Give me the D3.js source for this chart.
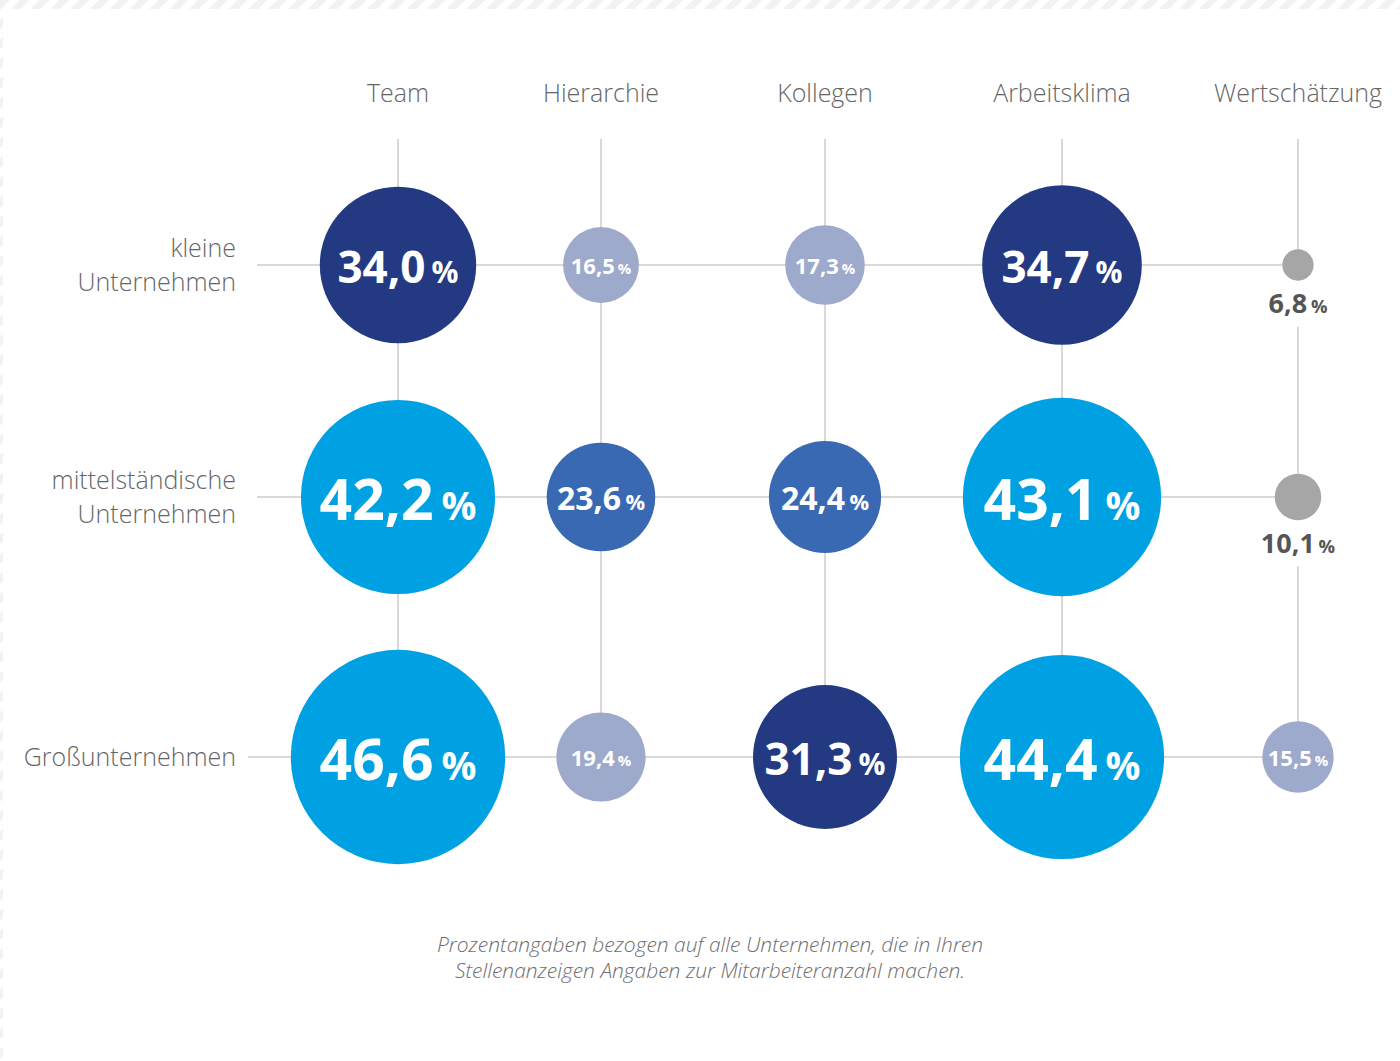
<!DOCTYPE html>
<html lang="de">
<head>
  <meta charset="UTF-8">
  <title>Unternehmensgröße</title>
  <script src="https://d3js.org/d3.v7.min.js"></script>
  <style>
    body { margin: 0; background: #fff; }
    svg { display: block; }
    .label { font-family: "Open Sans", sans-serif; font-weight: 300; fill: #666; }
    .val { font-family: "Open Sans", sans-serif; font-weight: 700; }
    .note { font-family: "Open Sans", sans-serif; font-style: italic; font-weight: 300; fill: #6e6e6e; }
  </style>
</head>
<body>
  <script>
    var width = 1400;
    var height = 1061;

    // Daten
    var columns = ['Team', 'Hierarchie', 'Kollegen', 'Arbeitsklima', 'Wertschätzung'];
    var rows = ['kleine Unternehmen', 'mittelständische Unternehmen', 'Großunternehmen'];
    var rowLines = [['kleine', 'Unternehmen'], ['mittelständische', 'Unternehmen'], ['Großunternehmen']];
    var kleine = [34.0, 16.5, 17.3, 34.7, 6.8];
    var mittel = [42.2, 23.6, 24.4, 43.1, 10.1];
    var gross = [46.6, 19.4, 31.3, 44.4, 15.5];
    var note = ['Prozentangaben bezogen auf alle Unternehmen, die in Ihren',
      'Stellenanzeigen Angaben zur Mitarbeiteranzahl machen.'];

    var values = [kleine, mittel, gross];
    var cells = [];
    values.forEach(function (serie, r) {
      serie.forEach(function (v, c) {
        cells.push({ row: rows[r], col: columns[c], value: v });
      });
    });

    var svg = d3.select('body').append('svg')
      .attr('width', width)
      .attr('height', height);

    // gestreifter Rand oben/links
    var defs = svg.append('defs');
    defs.append('pattern')
      .attr('id', 'stripes')
      .attr('patternUnits', 'userSpaceOnUse')
      .attr('width', 14).attr('height', 14)
      .attr('patternTransform', 'rotate(45)')
      .append('rect')
      .attr('width', 7).attr('height', 14)
      .attr('fill', '#f2f2f2');
    svg.append('rect').attr('x', 0).attr('y', 0).attr('width', width).attr('height', 9).attr('fill', 'url(#stripes)');
    svg.append('rect').attr('x', 0).attr('y', 0).attr('width', 3).attr('height', height).attr('fill', 'url(#stripes)');

    var x = d3.scaleOrdinal().domain(columns).range([398, 601, 825, 1062, 1298]);
    var y = d3.scaleOrdinal().domain(rows).range([265, 497, 757]);
    var r = d3.scaleLinear().domain([0, 50]).range([0, 115]);
    var color = d3.scaleThreshold().domain([12, 20, 30, 40])
      .range(['#a6a6a6', '#9eaacb', '#3a69b3', '#233a83', '#00a1e2']);
    var fontSize = d3.scaleThreshold().domain([12, 20, 30, 40])
      .range([27, 22, 32, 44, 57]);

    var de = d3.formatLocale({ decimal: ',', thousands: '.', grouping: [3], currency: ['', ' €'] });
    var fmt = de.format('.1f');

    var lineColor = '#cccccc';
    var topY = 139;
    var lastRow = rows[rows.length - 1];
    var lastCol = columns[columns.length - 1];

    // Gitterlinien
    svg.selectAll('.vline').data(columns).enter().append('line')
      .attr('x1', function (d) { return x(d); })
      .attr('x2', function (d) { return x(d); })
      .attr('y1', topY)
      .attr('y2', y(lastRow))
      .attr('stroke', lineColor).attr('stroke-width', 1.5);

    svg.selectAll('.hline').data(rows).enter().append('line')
      .attr('x1', function (d, i) { return rowLines[i].length > 1 ? 257 : 248; })
      .attr('x2', x(lastCol))
      .attr('y1', function (d) { return y(d); })
      .attr('y2', function (d) { return y(d); })
      .attr('stroke', lineColor).attr('stroke-width', 1.5);

    // Spaltenbeschriftung
    svg.selectAll('.colLabel').data(columns).enter().append('text')
      .attr('class', 'label')
      .attr('x', function (d) { return x(d); })
      .attr('y', 102)
      .attr('text-anchor', 'middle')
      .attr('font-size', '25px')
      .text(function (d) { return d; });

    // Zeilenbeschriftung
    var lineH = 34;
    svg.selectAll('.rowLabel').data(rows).enter().append('text')
      .attr('class', 'label')
      .attr('text-anchor', 'end')
      .attr('font-size', '25px')
      .each(function (d, i) {
        var lines = rowLines[i];
        var t = d3.select(this);
        lines.forEach(function (l, j) {
          t.append('tspan')
            .attr('x', 236)
            .attr('y', y(d) + 9 + (j - (lines.length - 1) / 2) * lineH)
            .text(l);
        });
      });

    // Kreise
    var g = svg.selectAll('.cell').data(cells).enter().append('g')
      .attr('transform', function (d) { return 'translate(' + x(d.col) + ',' + y(d.row) + ')'; });

    // Lücke in der Linie für außenliegende Werte
    g.filter(function (d) { return d.value < 12; })
      .append('rect')
      .attr('x', -40)
      .attr('y', function (d) { return r(d.value); })
      .attr('width', 80)
      .attr('height', 46)
      .attr('fill', '#fff');

    g.append('circle')
      .attr('r', function (d) { return r(d.value); })
      .attr('fill', function (d) { return color(d.value); });

    var label = g.append('text')
      .attr('class', 'val')
      .attr('text-anchor', 'middle')
      .attr('fill', function (d) { return d.value < 12 ? '#555' : '#fff'; })
      .attr('font-size', function (d) { return fontSize(d.value) + 'px'; })
      .attr('y', function (d) {
        var fs = fontSize(d.value);
        if (d.value < 12) return r(d.value) + 13 + fs * 0.72;
        return fs * 0.41;
      });
    label.append('tspan')
      .text(function (d) { return fmt(d.value); });
    label.append('tspan')
      .attr('dx', function (d) { return fontSize(d.value) * 0.14; })
      .attr('font-size', function (d) { return (fontSize(d.value) * 0.68) + 'px'; })
      .text('%');

    // Fußnote
    svg.append('text')
      .attr('class', 'note')
      .attr('text-anchor', 'middle')
      .attr('font-size', '21px')
      .selectAll('tspan').data(note).enter().append('tspan')
      .attr('x', 710)
      .attr('y', function (d, i) { return 952 + i * 26; })
      .text(function (d) { return d; });
  </script>
</body>
</html>
